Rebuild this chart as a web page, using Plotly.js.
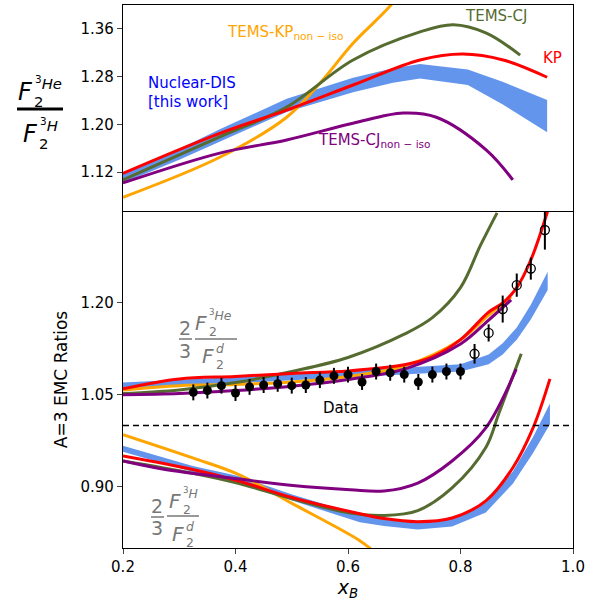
<!DOCTYPE html>
<html>
<head>
<meta charset="utf-8">
<script src="https://cdn.plot.ly/plotly-3.0.1.min.js"></script>
<style>body{margin:0}#plot{width:602px;height:601px}</style>
</head>
<body>
<div id="plot"></div>
<script>
// ---------- top panel: F2(3He)/F2(3H) ----------
var xKP = [0.2, 0.372, 0.491, 0.609, 0.728, 0.804, 0.876, 0.954];
var yKP = [1.118, 1.185, 1.224, 1.266, 1.308, 1.318, 1.308, 1.279];
var xDIS = [0.2, 0.3, 0.372, 0.491, 0.609, 0.68, 0.728, 0.813, 0.876, 0.954];
var yDIS = [1.110, 1.150, 1.182, 1.232, 1.266, 1.282, 1.289, 1.279, 1.252, 1.214];
var eDIS = [0.008, 0.009, 0.010, 0.011, 0.012, 0.012, 0.012, 0.013, 0.019, 0.027];
var xCJ = [0.2, 0.372, 0.491, 0.609, 0.728, 0.787, 0.846, 0.906];
var yCJ = [1.107, 1.179, 1.229, 1.308, 1.355, 1.367, 1.353, 1.316];
var xCJn = [0.2, 0.372, 0.491, 0.609, 0.698, 0.757, 0.846, 0.893];
var yCJn = [1.102, 1.152, 1.174, 1.202, 1.219, 1.212, 1.157, 1.107];
var xKPn = [0.2, 0.372, 0.491, 0.55, 0.609, 0.68, 0.72];
var yKPn = [1.078, 1.145, 1.212, 1.269, 1.336, 1.404, 1.46];

// ---------- bottom panel: 3He/d (upper group) ----------
var xHe = [0.2, 0.3, 0.4, 0.5, 0.6, 0.7, 0.75, 0.8, 0.85, 0.875, 0.9, 0.925, 0.955];
var heKP = [1.060, 1.076, 1.080, 1.085, 1.089, 1.099, 1.112, 1.140, 1.185, 1.200, 1.225, 1.270, 1.350];
var xHeN = [0.2, 0.3, 0.4, 0.5, 0.6, 0.7, 0.8, 0.85, 0.89];
var heKPn = [1.058, 1.065, 1.067, 1.071, 1.080, 1.097, 1.140, 1.180, 1.210];
var heCJn = [1.050, 1.052, 1.057, 1.064, 1.075, 1.092, 1.133, 1.172, 1.205];
var xHeCJ = [0.2, 0.3, 0.4, 0.5, 0.6, 0.7, 0.75, 0.8, 0.835, 0.865];
var heCJ = [1.052, 1.058, 1.070, 1.088, 1.111, 1.149, 1.176, 1.225, 1.293, 1.347];
var xHeDIS = [0.2, 0.3, 0.4, 0.5, 0.6, 0.7, 0.8, 0.85, 0.875, 0.9, 0.925, 0.955];
var heDIS = [1.065, 1.070, 1.074, 1.078, 1.084, 1.089, 1.094, 1.108, 1.125, 1.150, 1.185, 1.236];
var heDISe = [0.005, 0.005, 0.005, 0.005, 0.005, 0.006, 0.006, 0.008, 0.009, 0.010, 0.012, 0.015];

// ---------- bottom panel: 3H/d (lower group) ----------
var xH = [0.2, 0.324, 0.403, 0.502, 0.621, 0.664, 0.724, 0.785, 0.845, 0.893, 0.929, 0.959];
var hKP = [0.950, 0.928, 0.910, 0.882, 0.856, 0.848, 0.843, 0.849, 0.877, 0.931, 0.996, 1.076];
var hDIS = [0.962, 0.929, 0.913, 0.882, 0.848, 0.842, 0.836, 0.842, 0.866, 0.915, 0.968, 1.019];
var hDISe = [0.005, 0.005, 0.005, 0.005, 0.006, 0.006, 0.006, 0.007, 0.008, 0.010, 0.013, 0.017];
var xHCJ = [0.2, 0.324, 0.403, 0.502, 0.604, 0.664, 0.724, 0.785, 0.845, 0.868, 0.908];
var hCJ = [0.942, 0.922, 0.906, 0.880, 0.857, 0.853, 0.861, 0.898, 0.964, 1.019, 1.117];
var xHCJn = [0.2, 0.27, 0.403, 0.502, 0.604, 0.664, 0.724, 0.785, 0.845, 0.899];
var hCJn = [0.942, 0.929, 0.913, 0.902, 0.895, 0.893, 0.906, 0.942, 0.996, 1.092];
var xHKPn = [0.2, 0.324, 0.403, 0.502, 0.621, 0.645];
var hKPn = [0.985, 0.947, 0.921, 0.872, 0.812, 0.795];

// ---------- data ----------
var xData = [0.325, 0.35, 0.375, 0.4, 0.425, 0.45, 0.475, 0.5, 0.525, 0.55,
             0.575, 0.6, 0.625, 0.65, 0.675, 0.7, 0.725, 0.75, 0.775, 0.8];
var yData = [1.054, 1.057, 1.065, 1.053, 1.063, 1.066, 1.068, 1.065, 1.066, 1.074,
             1.081, 1.083, 1.071, 1.088, 1.086, 1.083, 1.071, 1.083, 1.088, 1.088];
var eData = [0.013, 0.013, 0.013, 0.013, 0.013, 0.013, 0.013, 0.013, 0.013, 0.013,
             0.013, 0.013, 0.013, 0.013, 0.013, 0.013, 0.013, 0.013, 0.013, 0.013];
var xOpen = [0.825, 0.85, 0.875, 0.9, 0.925, 0.95];
var yOpen = [1.117, 1.151, 1.190, 1.229, 1.256, 1.319];
var eOpen = [0.016, 0.014, 0.022, 0.019, 0.018, 0.032];

var RED = '#ff0000', ORANGE = '#ffa500', GREEN = '#556b2f', PURPLE = '#800080', BLUE = '#6495ed';

function line(x, y, color, top) {
  return {x: x, y: y, mode: 'lines', line: {color: color, width: 3, shape: 'spline'},
          xaxis: top ? 'x2' : 'x', yaxis: top ? 'y2' : 'y', hoverinfo: 'skip'};
}
function band(x, y, e, top) {
  var up = y.map(function (v, i) { return v + e[i]; });
  var lo = y.map(function (v, i) { return v - e[i]; });
  return {x: x.concat(x.slice().reverse()), y: up.concat(lo.reverse()),
          mode: 'lines', fill: 'toself', fillcolor: BLUE, line: {width: 0},
          xaxis: top ? 'x2' : 'x', yaxis: top ? 'y2' : 'y', hoverinfo: 'skip'};
}

var traces = [
  band(xDIS, yDIS, eDIS, true),
  line(xKPn, yKPn, ORANGE, true),
  line(xCJ, yCJ, GREEN, true),
  line(xKP, yKP, RED, true),
  line(xCJn, yCJn, PURPLE, true),
  band(xHeDIS, heDIS, heDISe, false),
  band(xH, hDIS, hDISe, false),
  line(xHKPn, hKPn, ORANGE, false),
  line(xHeN, heKPn, ORANGE, false),
  line(xHeCJ, heCJ, GREEN, false),
  line(xHCJ, hCJ, GREEN, false),
  line(xHe, heKP, RED, false),
  line(xH, hKP, RED, false),
  line(xHeN, heCJn, PURPLE, false),
  line(xHCJn, hCJn, PURPLE, false),
  {x: xData, y: yData, mode: 'markers', marker: {color: 'black', size: 9},
   error_y: {type: 'data', array: eData, color: 'black', thickness: 2, width: 0}},
  {x: xOpen, y: yOpen, mode: 'markers',
   marker: {color: 'rgba(0,0,0,0)', size: 9, line: {color: 'black', width: 1.3}},
   error_y: {type: 'data', array: eOpen, color: 'black', thickness: 2, width: 0}}
];

// pixel -> paper helpers (plot area 123..573 x 5..548)
function px(p) { return (p - 123) / 450; }
function py(p) { return (548 - p) / 543; }

var ann = [], shp = [];
function txt(x, y, t, color, size, anchor) {
  ann.push({xref: 'paper', yref: 'paper', x: px(x), y: py(y), text: t, showarrow: false,
            xanchor: anchor || 'center', yanchor: 'middle',
            font: {color: color, size: size, family: 'DejaVu Sans'}});
}
function hline(x0, x1, y, color, w) {
  shp.push({type: 'line', xref: 'paper', yref: 'paper', x0: px(x0), x1: px(x1),
            y0: py(y), y1: py(y), line: {color: color, width: w}});
}
// F_2^{sup} glyph group
function F2(x, y, sup, color, s) {
  txt(x, y, '<i>F</i>', color, s);
  txt(x + s * 0.32, y - s * 0.38, sup, color, s * 0.62, 'left');
  txt(x + s * 0.3, y + s * 0.4, '2', color, s * 0.62, 'left');
}

// top y-axis fraction
F2(25, 92, '<sup>3</sup><i>He</i>', 'black', 24);
hline(17, 63, 109, 'black', 3);
F2(30, 134, '<sup>3</sup><i>H</i>', 'black', 24);

// bottom fractions (grey)
var GREY = '#777777';
txt(185, 328, '2', GREY, 19); txt(185, 351, '3', GREY, 19); hline(179, 192, 339, GREY, 1.5);
F2(201, 323, '<sup>3</sup><i>He</i>', GREY, 20); hline(195, 237, 339, GREY, 1.5);
F2(208, 356, '<i>d</i>', GREY, 20);
txt(157, 506, '2', GREY, 19); txt(157, 528, '3', GREY, 19); hline(151, 164, 517, GREY, 1.5);
F2(175, 501, '<sup>3</sup><i>H</i>', GREY, 20); hline(167, 199, 516, GREY, 1.5);
F2(178, 534, '<i>d</i>', GREY, 20);

// curve labels
txt(225, 33, 'TEMS-KP<sub>non − iso</sub>', ORANGE, 15, 'left');
txt(463, 16, 'TEMS-CJ', GREEN, 15, 'left');
txt(541, 58, 'KP', RED, 15, 'left');
txt(146, 83, 'Nuclear-DIS', '#0000ff', 15, 'left');
txt(146, 102, '[this work]', '#0000ff', 15, 'left');
txt(316, 140, 'TEMS-CJ<sub>non − iso</sub>', PURPLE, 15, 'left');
txt(341, 408, 'Data', 'black', 15);

// dashed line at 1
shp.push({type: 'line', xref: 'x', yref: 'y', x0: 0.2, x1: 1.0, y0: 1.0, y1: 1.0,
          line: {color: 'black', width: 1.5, dash: '6px,4px'}});

var axisFont = {family: 'DejaVu Sans', size: 15, color: 'black'};
var layout = {
  width: 602, height: 601, showlegend: false,
  margin: {l: 123, r: 29, t: 5, b: 53},
  paper_bgcolor: 'white', plot_bgcolor: 'white',
  font: {family: 'DejaVu Sans'},
  xaxis: {range: [0.2, 1.0], tickvals: [0.2, 0.4, 0.6, 0.8, 1.0], ticktext: ['0.2', '0.4', '0.6', '0.8', '1.0'],
          ticks: 'outside', ticklen: 5, showgrid: false, zeroline: false, showline: true, mirror: false,
          linecolor: 'black', linewidth: 1.2, tickfont: axisFont, anchor: 'y',
          title: {text: '<i>x</i><sub><i>B</i></sub>', font: {size: 19, color: 'black'}, standoff: 4}},
  yaxis: {domain: [0, 0.6206], range: [0.80, 1.35], tickvals: [0.90, 1.05, 1.20], ticktext: ['0.90', '1.05', '1.20'],
          ticks: 'outside', ticklen: 5, showgrid: false, zeroline: false, showline: true, mirror: true,
          linecolor: 'black', linewidth: 1.2, tickfont: axisFont,
          title: {text: 'A=3 EMC Ratios', font: {size: 17, color: 'black'}, standoff: 8}},
  xaxis2: {matches: 'x', anchor: 'y2', showticklabels: false, ticks: '', showgrid: false, zeroline: false,
           showline: true, mirror: true, linecolor: 'black', linewidth: 1.2},
  yaxis2: {domain: [0.6206, 1], range: [1.055, 1.40], tickvals: [1.12, 1.20, 1.28, 1.36],
           ticktext: ['1.12', '1.20', '1.28', '1.36'],
           ticks: 'outside', ticklen: 5, showgrid: false, zeroline: false, showline: true, mirror: true,
           linecolor: 'black', linewidth: 1.2, tickfont: axisFont},
  annotations: ann, shapes: shp
};

Plotly.newPlot('plot', traces, layout, {displayModeBar: false, staticPlot: true});
</script>
</body>
</html>
